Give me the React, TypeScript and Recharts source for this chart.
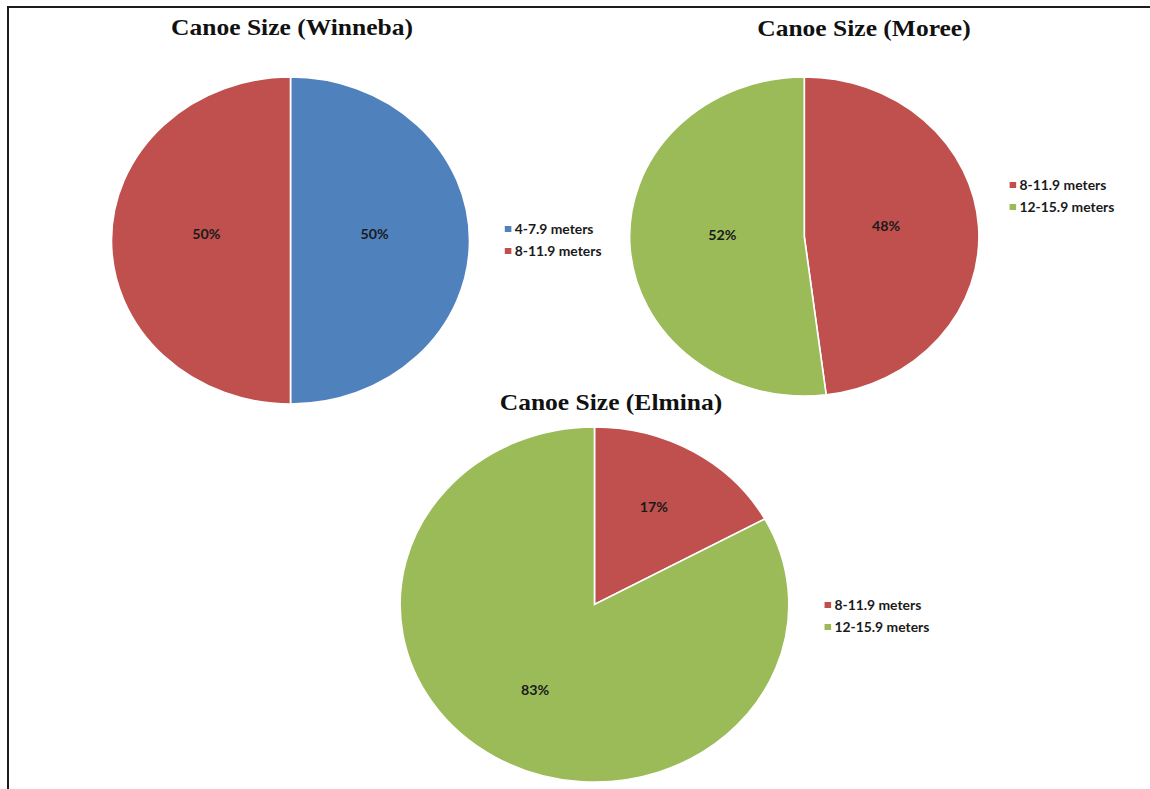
import { PieChart, Pie, Cell, Legend } from 'recharts';

// original figure is stretched horizontally by this factor
const STRETCH = 1.095;

const BLUE = '#4F81BD';
const RED = '#C0504D';
const GREEN = '#9BBB59';

const winnebaSizes = ['4-7.9 meters', '8-11.9 meters'];
const winnebaShares = [50, 50];
const winnebaColors = [BLUE, RED];

const moreeSizes = ['8-11.9 meters', '12-15.9 meters'];
const moreeShares = [48, 52];
const moreeColors = [RED, GREEN];

const elminaSizes = ['8-11.9 meters', '12-15.9 meters'];
const elminaShares = [17, 83];
const elminaColors = [RED, GREEN];

const RAD = Math.PI / 180;

interface Slice {
  name: string;
  value: number;
}

interface CanoePieProps {
  title: string;
  sizes: string[];
  shares: number[];
  colors: string[];
  left: number;
  top: number;
  width: number;
  height: number;
  cx: number;
  cy: number;
  radius: number;
  labelFactor: number;
  titleX: number;
  titleY: number;
  legendX: number;
  legendY: number;
}

function LegendRows({ payload, order }: { payload?: any[]; order: string[] }) {
  if (!payload) return null;
  const rows = [...payload].sort((a, b) => order.indexOf(a.value) - order.indexOf(b.value));
  return (
    <div>
      {rows.map((p) => (
        <div
          key={p.value}
          style={{
            display: 'flex',
            alignItems: 'center',
            height: 22,
            fontFamily: 'Lato, "Open Sans", sans-serif',
            fontWeight: 700,
            fontSize: 12.7,
            color: '#1a1a1a',
            whiteSpace: 'nowrap',
          }}
        >
          <span
            style={{
              display: 'inline-block',
              width: 6,
              height: 6,
              background: p.color,
              marginRight: 3,
            }}
          />
          {p.value}
        </div>
      ))}
    </div>
  );
}

function CanoePie(props: CanoePieProps) {
  const {
    title, sizes, shares, colors, left, top, width, height,
    cx, cy, radius, labelFactor, titleX, titleY, legendX, legendY,
  } = props;
  const data: Slice[] = sizes.map((name, i) => ({ name, value: shares[i] }));

  const renderLabel = (p: any) => {
    const r = p.outerRadius * labelFactor;
    const x = p.cx + r * Math.cos(-p.midAngle * RAD);
    const y = p.cy + r * Math.sin(-p.midAngle * RAD) - 6;
    return (
      <text
        x={x}
        y={y}
        textAnchor="middle"
        dominantBaseline="central"
        fill="#1a1a1a"
        style={{ fontFamily: 'Lato, sans-serif', fontWeight: 700, fontSize: 13 }}
      >
        {`${p.value}%`}
      </text>
    );
  };

  return (
    <div style={{ position: 'absolute', left, top, width, height }}>
      <div
        style={{
          position: 'absolute',
          left: titleX - 200,
          top: titleY,
          width: 400,
          textAlign: 'center',
          fontFamily: '"Liberation Serif", "Times New Roman", serif',
          fontWeight: 700,
          fontSize: 23.3,
          lineHeight: '26px',
          color: '#111',
          whiteSpace: 'nowrap',
        }}
      >
        {title}
      </div>
      <PieChart
        width={width}
        height={height}
        margin={{ top: 0, right: 0, bottom: 0, left: 0 }}
        style={{ position: 'absolute', left: 0, top: 0 }}
      >
        <Pie
          data={data}
          dataKey="value"
          nameKey="name"
          cx={cx}
          cy={cy}
          outerRadius={radius}
          startAngle={90}
          endAngle={-270}
          stroke="#fff"
          strokeWidth={1.5}
          label={renderLabel}
          labelLine={false}
          isAnimationActive={false}
        >
          {data.map((d, i) => (
            <Cell key={d.name} fill={colors[i]} />
          ))}
        </Pie>
        <Legend
          layout="vertical"
          content={<LegendRows order={sizes} />}
          wrapperStyle={{ left: legendX, top: legendY, width: 'auto' }}
        />
      </PieChart>
    </div>
  );
}

export default function App() {
  return (
    <div style={{ position: 'absolute', left: 0, top: 0, width: 1150, height: 789, background: '#fff', overflow: 'hidden' }}>
      <div
        style={{
          position: 'absolute',
          left: 7,
          top: 6,
          width: 1200,
          height: 900,
          borderLeft: '2px solid #1c1c1c',
          borderTop: '2px solid #1c1c1c',
        }}
      />
      <div
        style={{
          position: 'absolute',
          left: 0,
          top: 0,
          width: 1150 / STRETCH,
          height: 789,
          transform: `scaleX(${STRETCH})`,
          transformOrigin: '0 0',
        }}
      >
        <CanoePie
          title="Canoe Size (Winneba)"
          sizes={winnebaSizes}
          shares={winnebaShares}
          colors={winnebaColors}
          left={0}
          top={0}
          width={560}
          height={420}
          cx={265.3}
          cy={240.5}
          radius={163.5}
          labelFactor={0.47}
          titleX={266.7}
          titleY={14}
          legendX={461}
          legendY={218}
        />
        <CanoePie
          title="Canoe Size (Moree)"
          sizes={moreeSizes}
          shares={moreeShares}
          colors={moreeColors}
          left={560}
          top={0}
          width={490}
          height={410}
          cx={174.5}
          cy={236.5}
          radius={159.5}
          labelFactor={0.47}
          titleX={229}
          titleY={15}
          legendX={362}
          legendY={174}
        />
        <CanoePie
          title="Canoe Size (Elmina)"
          sizes={elminaSizes}
          shares={elminaShares}
          colors={elminaColors}
          left={300}
          top={380}
          width={600}
          height={409}
          cx={242.9}
          cy={224.5}
          radius={177.5}
          labelFactor={0.6}
          titleX={258}
          titleY={9}
          legendX={453}
          legendY={214}
        />
      </div>
    </div>
  );
}
